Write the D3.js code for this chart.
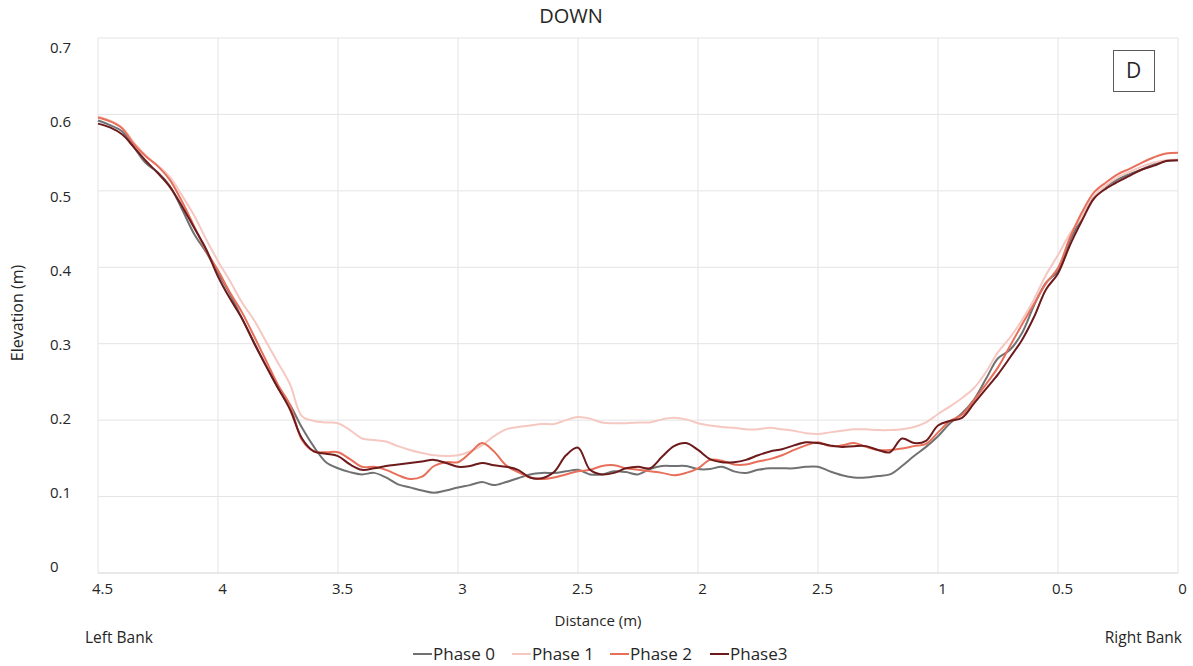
<!DOCTYPE html>
<html>
<head>
<meta charset="utf-8">
<script src="https://cdn.jsdelivr.net/npm/d3@7"></script>
<style>
  body { margin: 0; background: #fff; }
  text { font-family: "Open Sans", sans-serif; fill: #262626; }
</style>
</head>
<body>
<div id="chart"></div>
<script>
// chart size
const w = 1193;
const h = 666;

// distance from right bank (m), every 0.05 m
const distance = [4.5, 4.45, 4.4, 4.35, 4.3, 4.25, 4.2, 4.15, 4.1, 4.05,
  4, 3.95, 3.9, 3.85, 3.8, 3.75, 3.7, 3.65, 3.6, 3.55,
  3.5, 3.45, 3.4, 3.35, 3.3, 3.25, 3.2, 3.15, 3.1, 3.05,
  3, 2.95, 2.9, 2.85, 2.8, 2.75, 2.7, 2.65, 2.6, 2.55,
  2.5, 2.45, 2.4, 2.35, 2.3, 2.25, 2.2, 2.15, 2.1, 2.05,
  2, 1.95, 1.9, 1.85, 1.8, 1.75, 1.7, 1.65, 1.6, 1.55,
  1.5, 1.45, 1.4, 1.35, 1.3, 1.25, 1.2, 1.15, 1.1, 1.05,
  1, 0.95, 0.9, 0.85, 0.8, 0.75, 0.7, 0.65, 0.6, 0.55,
  0.5, 0.45, 0.4, 0.35, 0.3, 0.25, 0.2, 0.15, 0.1, 0.05, 0];

const phase0 = [0.592, 0.586, 0.578, 0.557, 0.536, 0.524, 0.506, 0.476, 0.444, 0.420,
  0.393, 0.365, 0.333, 0.302, 0.271, 0.242, 0.220, 0.190, 0.165, 0.145,
  0.137, 0.132, 0.129, 0.131, 0.125, 0.116, 0.112, 0.108, 0.105, 0.108,
  0.112, 0.115, 0.119, 0.115, 0.119, 0.124, 0.129, 0.131, 0.131, 0.133,
  0.135, 0.129, 0.129, 0.133, 0.132, 0.129, 0.136, 0.140, 0.140, 0.140,
  0.136, 0.136, 0.139, 0.133, 0.131, 0.135, 0.137, 0.137, 0.137, 0.139,
  0.139, 0.133, 0.128, 0.125, 0.125, 0.127, 0.129, 0.140, 0.153, 0.165,
  0.179, 0.196, 0.209, 0.227, 0.254, 0.281, 0.292, 0.314, 0.350, 0.380,
  0.395, 0.435, 0.465, 0.492, 0.506, 0.515, 0.522, 0.528, 0.535, 0.539, 0.540];

const phase1 = [0.597, 0.592, 0.583, 0.563, 0.546, 0.533, 0.518, 0.494, 0.468, 0.437,
  0.408, 0.382, 0.354, 0.331, 0.303, 0.275, 0.247, 0.205, 0.199, 0.197,
  0.196, 0.187, 0.176, 0.174, 0.172, 0.166, 0.161, 0.157, 0.154, 0.153,
  0.154, 0.159, 0.167, 0.179, 0.188, 0.191, 0.193, 0.195, 0.195, 0.200,
  0.204, 0.202, 0.197, 0.196, 0.196, 0.197, 0.197, 0.201, 0.203, 0.201,
  0.196, 0.193, 0.191, 0.190, 0.188, 0.188, 0.190, 0.188, 0.186, 0.183,
  0.182, 0.184, 0.186, 0.188, 0.188, 0.187, 0.187, 0.188, 0.191, 0.197,
  0.208, 0.218, 0.229, 0.242, 0.263, 0.289, 0.308, 0.331, 0.358, 0.390,
  0.416, 0.444, 0.466, 0.492, 0.507, 0.518, 0.525, 0.532, 0.537, 0.540, 0.541];

const phase2 = [0.596, 0.591, 0.582, 0.561, 0.545, 0.532, 0.514, 0.486, 0.454, 0.422,
  0.396, 0.367, 0.341, 0.310, 0.278, 0.246, 0.220, 0.174, 0.159, 0.158,
  0.158, 0.149, 0.139, 0.139, 0.135, 0.128, 0.123, 0.126, 0.140, 0.145,
  0.145, 0.157, 0.170, 0.159, 0.141, 0.132, 0.125, 0.123, 0.125, 0.129,
  0.133, 0.135, 0.140, 0.141, 0.137, 0.135, 0.133, 0.131, 0.128, 0.131,
  0.137, 0.148, 0.147, 0.142, 0.142, 0.146, 0.149, 0.154, 0.161, 0.167,
  0.171, 0.166, 0.167, 0.170, 0.165, 0.161, 0.161, 0.163, 0.166, 0.169,
  0.184, 0.199, 0.207, 0.226, 0.247, 0.269, 0.297, 0.325, 0.352, 0.379,
  0.399, 0.439, 0.472, 0.498, 0.511, 0.522, 0.529, 0.537, 0.544, 0.549, 0.550];

const phase3 = [0.588, 0.583, 0.574, 0.557, 0.539, 0.523, 0.505, 0.480, 0.452, 0.424,
  0.388, 0.359, 0.333, 0.301, 0.271, 0.242, 0.214, 0.176, 0.159, 0.156,
  0.153, 0.142, 0.135, 0.137, 0.140, 0.142, 0.144, 0.146, 0.148, 0.144,
  0.139, 0.140, 0.144, 0.141, 0.139, 0.135, 0.125, 0.124, 0.132, 0.154,
  0.164, 0.135, 0.129, 0.131, 0.137, 0.139, 0.137, 0.152, 0.166, 0.170,
  0.161, 0.149, 0.145, 0.145, 0.148, 0.154, 0.159, 0.162, 0.167, 0.171,
  0.170, 0.167, 0.165, 0.166, 0.166, 0.161, 0.158, 0.176, 0.170, 0.173,
  0.193, 0.199, 0.203, 0.222, 0.241, 0.260, 0.282, 0.305, 0.335, 0.371,
  0.392, 0.429, 0.461, 0.490, 0.503, 0.512, 0.520, 0.528, 0.533, 0.539, 0.540];

const seriesNames = ['Phase 0', 'Phase 1', 'Phase 2', 'Phase3'];
const seriesColors = ['#6f7173', '#f6c8c2', '#e8705b', '#6d1a1c'];
const seriesValues = [phase0, phase1, phase2, phase3];

// tick labels as printed on the chart
const xTicks = [4.5, 4, 3.5, 3, 2.5, 2, 1.5, 1, 0.5, 0];
const xTickLabels = ['4.5', '4', '3.5', '3', '2.5', '2', '2.5', '1', '0.5', '0'];
const yTicks = [0, 0.1, 0.2, 0.3, 0.4, 0.5, 0.6, 0.7];
const yTickLabels = ['0', '0.1', '0.2', '0.3', '0.4', '0.5', '0.6', '0.7'];

const plotLeft = 98, plotRight = 1178, plotTop = 38, plotBottom = 573;

const xScale = d3.scaleLinear().domain([4.5, 0]).range([plotLeft, plotRight]);
const yScale = d3.scaleLinear().domain([0, 0.7]).range([plotBottom, plotTop]);
// the printed y labels sit on a slightly tighter spacing than the grid
const yLabelScale = d3.scaleLinear().domain([0, 0.7]).range([567, 48]);

const svg = d3.select('#chart')
              .append('svg')
              .attr('width', w)
              .attr('height', h);

// grid
svg.append('g')
   .selectAll('line')
   .data(yTicks.slice(1))
   .enter()
   .append('line')
   .attr('x1', plotLeft).attr('x2', plotRight)
   .attr('y1', (d) => yScale(d)).attr('y2', (d) => yScale(d))
   .attr('stroke', '#e4e4e4')
   .attr('stroke-width', 1);

svg.append('g')
   .selectAll('line')
   .data(xTicks)
   .enter()
   .append('line')
   .attr('x1', (d) => xScale(d)).attr('x2', (d) => xScale(d))
   .attr('y1', plotTop).attr('y2', plotBottom)
   .attr('stroke', '#e4e4e4')
   .attr('stroke-width', 1);

svg.append('line')
   .attr('x1', plotLeft).attr('x2', plotRight)
   .attr('y1', yScale(0)).attr('y2', yScale(0))
   .attr('stroke', '#d4d4d4')
   .attr('stroke-width', 1.2);

// x axis labels
const xAxis = svg.append('g')
   .attr('transform', 'translate(4,' + (plotBottom + 10) + ')')
   .call(d3.axisBottom(xScale)
           .tickValues(xTicks)
           .tickFormat((d, i) => xTickLabels[i])
           .tickSize(0)
           .tickPadding(0));
xAxis.select('.domain').remove();
xAxis.selectAll('text')
     .style('font-family', '"Open Sans", sans-serif')
     .style('font-size', '15px')
     .attr('fill', '#262626');

// y axis labels (left aligned, like the original)
const yAxis = svg.append('g')
   .attr('transform', 'translate(50,0)')
   .call(d3.axisLeft(yLabelScale)
           .tickValues(yTicks)
           .tickFormat((d, i) => yTickLabels[i])
           .tickSize(0)
           .tickPadding(0));
yAxis.select('.domain').remove();
yAxis.selectAll('text')
     .attr('text-anchor', 'start')
     .style('font-family', '"Open Sans", sans-serif')
     .style('font-size', '15px')
     .attr('fill', '#262626');

// lines
const line = d3.line()
               .x((d) => xScale(d[0]))
               .y((d) => yScale(d[1]))
               .curve(d3.curveCatmullRom.alpha(0.5));

seriesValues.forEach(function (vals, i) {
  svg.append('path')
     .datum(distance.map((d, j) => [d, vals[j]]))
     .attr('fill', 'none')
     .attr('stroke', seriesColors[i])
     .attr('stroke-width', 2)
     .attr('stroke-linejoin', 'round')
     .attr('d', line);
});

// title
svg.append('text')
   .attr('x', 571)
   .attr('y', 23)
   .attr('text-anchor', 'middle')
   .style('font-size', '20px')
   .text('DOWN');

// panel letter
svg.append('rect')
   .attr('x', 1113.5).attr('y', 50.5)
   .attr('width', 41).attr('height', 41)
   .attr('fill', '#fff')
   .attr('stroke', '#595959')
   .attr('stroke-width', 1);
svg.append('text')
   .attr('x', 1133.5)
   .attr('y', 78)
   .attr('text-anchor', 'middle')
   .style('font-size', '21px')
   .text('D');

// axis titles
svg.append('text')
   .attr('x', 598)
   .attr('y', 626)
   .attr('text-anchor', 'middle')
   .style('font-size', '15px')
   .text('Distance (m)');

svg.append('text')
   .attr('text-anchor', 'middle')
   .attr('transform', 'translate(23,313)rotate(-90)')
   .style('font-size', '16px')
   .text('Elevation (m)');

svg.append('text')
   .attr('x', 85)
   .attr('y', 643)
   .style('font-size', '15.5px')
   .text('Left Bank');

svg.append('text')
   .attr('x', 1182)
   .attr('y', 643)
   .attr('text-anchor', 'end')
   .style('font-size', '15.5px')
   .text('Right Bank');

// legend
const legendX = [413, 512, 610, 710];
const legend = svg.append('g');
seriesNames.forEach(function (name, i) {
  legend.append('line')
        .attr('x1', legendX[i]).attr('x2', legendX[i] + 19)
        .attr('y1', 654).attr('y2', 654)
        .attr('stroke', seriesColors[i])
        .attr('stroke-width', 2);
  legend.append('text')
        .attr('x', legendX[i] + 20)
        .attr('y', 660)
        .style('font-size', '17px')
        .attr('fill', '#595959')
        .text(name);
});
</script>
</body>
</html>
